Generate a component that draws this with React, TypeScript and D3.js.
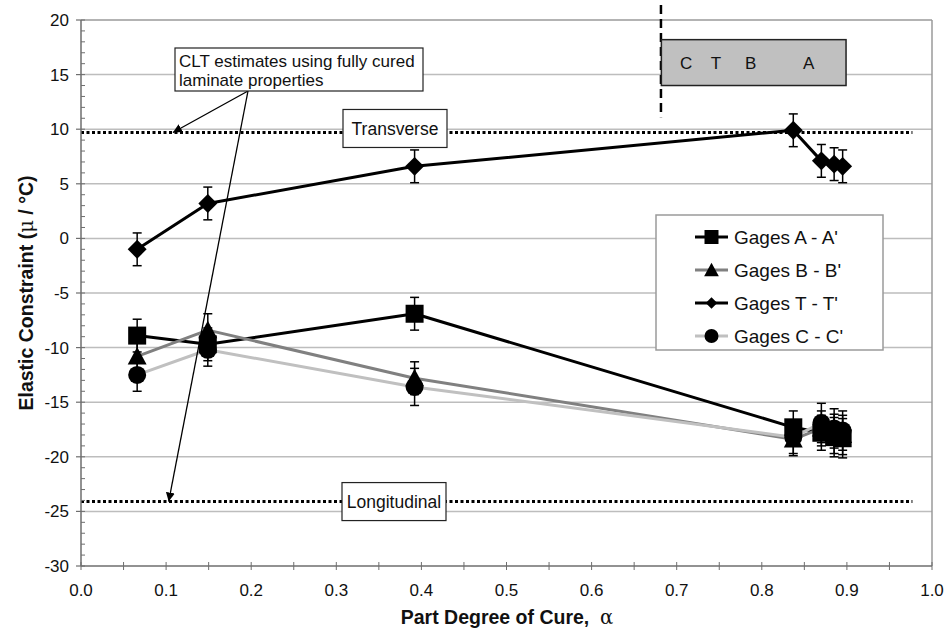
import React from 'react';
import * as d3 from 'd3';

// ---------- data ----------
const alpha = [0.066, 0.149, 0.392, 0.837, 0.87, 0.885, 0.895];
const gagesA = [-8.9, -9.7, -6.9, -17.3, -17.8, -18.2, -18.3];
const gagesB = [-10.8, -8.4, -12.8, -18.4, -17.4, -17.9, -18.0];
const gagesT = [-1.0, 3.2, 6.6, 9.9, 7.1, 6.8, 6.6];
const gagesC = [-12.5, -10.2, -13.6, -18.2, -16.9, -17.4, -17.6];
const errA = [1.5, 1.5, 1.5, 1.5, 1.6, 1.8, 1.8];
const errB = [1.5, 1.5, 1.5, 1.5, 1.6, 1.8, 1.8];
const errT = [1.5, 1.5, 1.5, 1.5, 1.5, 1.5, 1.5];
const errC = [1.5, 1.5, 1.7, 1.5, 1.8, 1.8, 1.8];
const seriesNames = ["Gages A - A'", "Gages B - B'", "Gages T - T'", "Gages C - C'"];
const transverse = 9.7;
const longitudinal = -24.1;
const yTicks = [-30, -25, -20, -15, -10, -5, 0, 5, 10, 15, 20];
const xTicks = [0, 0.1, 0.2, 0.3, 0.4, 0.5, 0.6, 0.7, 0.8, 0.9, 1.0];
const cureLetters = ['C', 'T', 'B', 'A'];

const FONT = 'Liberation Sans, Arial, sans-serif';

function markerPath(shape: string, s: number) {
  const h = s / 2;
  if (shape === 'square') return `M${-h},${-h}H${h}V${h}H${-h}Z`;
  if (shape === 'triangle') return `M0,${-h * 1.05}L${h * 1.05},${h * 0.9}L${-h * 1.05},${h * 0.9}Z`;
  if (shape === 'diamond') return `M0,${-h * 1.05}L${h * 1.05},0L0,${h * 1.05}L${-h * 1.05},0Z`;
  return d3.arc()({ innerRadius: 0, outerRadius: h, startAngle: 0, endAngle: 2 * Math.PI }) as string;
}

export default function App() {
  const W = 946, H = 639;
  const x = d3.scaleLinear().domain([0, 1]).range([81, 932]);
  const y = d3.scaleLinear().domain([-30, 20]).range([566, 20]);

  const series = [
    { name: seriesNames[0], values: gagesA, err: errA, color: '#000000', shape: 'square' },
    { name: seriesNames[1], values: gagesB, err: errB, color: '#808080', shape: 'triangle' },
    { name: seriesNames[2], values: gagesT, err: errT, color: '#000000', shape: 'diamond' },
    { name: seriesNames[3], values: gagesC, err: errC, color: '#c0c0c0', shape: 'circle' },
  ];

  const line = d3.line<number>().x((_, i) => x(alpha[i])).y((d) => y(d));
  const minorY = d3.range(-30, 20.001, 1);
  const minorX = d3.range(0, 1.0001, 0.05);

  const x0 = x(0), x1 = x(1), yb = y(-30), yt = y(20);

  return (
    <svg width={W} height={H} style={{ position: 'absolute', left: 0, top: 0, background: '#fff' }}
      fontFamily={FONT}>
      <rect x={0} y={0} width={W} height={H} fill="#fff" />
      {/* gridlines */}
      {yTicks.filter((t) => t > -30 && t < 20).map((t) => (
        <line key={'g' + t} x1={x0} x2={x1} y1={y(t)} y2={y(t)} stroke="#bdbdbd" strokeWidth={1.5} />
      ))}
      {/* plot border top/right */}
      <line x1={x0} x2={x1} y1={yt} y2={yt} stroke="#9a9a9a" strokeWidth={1.5} />
      <line x1={x1} x2={x1} y1={yt} y2={yb} stroke="#9a9a9a" strokeWidth={1.5} />

      {/* reference dotted lines */}
      <line x1={x0} x2={x(0.977)} y1={y(transverse)} y2={y(transverse)} stroke="#000" strokeWidth={3} strokeDasharray="3,2.5" />
      <line x1={x0} x2={x(0.977)} y1={y(longitudinal)} y2={y(longitudinal)} stroke="#000" strokeWidth={3} strokeDasharray="3,2.5" />

      {/* axes */}
      <line x1={x0} x2={x0} y1={yt} y2={yb} stroke="#6e6e6e" strokeWidth={1.5} />
      <line x1={x0} x2={x1} y1={yb} y2={yb} stroke="#6e6e6e" strokeWidth={1.5} />
      {minorY.map((t) => (
        <line key={'my' + t} x1={x0} x2={x0 + 4} y1={y(t)} y2={y(t)} stroke="#6e6e6e" strokeWidth={1} />
      ))}
      {yTicks.map((t) => (
        <g key={'yt' + t}>
          <line x1={x0 - 5} x2={x0} y1={y(t)} y2={y(t)} stroke="#6e6e6e" strokeWidth={1.2} />
          <text x={69} y={y(t)} dy="0.35em" textAnchor="end" fontSize={17} fill="#111">{t}</text>
        </g>
      ))}
      {minorX.map((t, i) => (
        <line key={'mx' + i} x1={x(t)} x2={x(t)} y1={yb - 4} y2={yb + 4} stroke="#6e6e6e" strokeWidth={1} />
      ))}
      {xTicks.map((t) => (
        <text key={'xt' + t} x={x(t)} y={596} textAnchor="middle" fontSize={17} fill="#111">{t.toFixed(1)}</text>
      ))}

      {/* axis titles */}
      <text x={507} y={624} textAnchor="middle" fontSize={19.5} fontWeight="bold" fill="#111">
        Part Degree of Cure,{'\u00a0\u00a0'}<tspan fontWeight="normal" fontFamily="DejaVu Serif, serif">α</tspan>
      </text>
      <text transform={`translate(33,${(yt + yb) / 2}) rotate(-90)`} textAnchor="middle" fontSize={19.5} fontWeight="bold" fill="#111">
        Elastic Constraint (<tspan fontWeight="normal" fontFamily="DejaVu Serif, serif">μ</tspan> / °C)
      </text>

      {/* series lines */}
      {series.map((s) => (
        <path key={'l' + s.name} d={line(s.values) as string} fill="none" stroke={s.color} strokeWidth={3} strokeLinejoin="round" />
      ))}
      {/* error bars */}
      {series.map((s) => s.values.map((v, i) => {
        const cx = x(alpha[i]);
        const ytop = y(v + s.err[i]), ybot = y(v - s.err[i]);
        return (
          <g key={'e' + s.name + i} stroke="#000" strokeWidth={1.5}>
            <line x1={cx} x2={cx} y1={ytop} y2={ybot} />
            <line x1={cx - 4.5} x2={cx + 4.5} y1={ytop} y2={ytop} />
            <line x1={cx - 4.5} x2={cx + 4.5} y1={ybot} y2={ybot} />
          </g>
        );
      }))}
      {/* markers */}
      {series.map((s) => s.values.map((v, i) => (
        <path key={'m' + s.name + i} d={markerPath(s.shape, 18)} transform={`translate(${x(alpha[i])},${y(v)})`} fill="#000" />
      )))}

      {/* cure-stage box */}
      <line x1={x(0.6815)} x2={x(0.6815)} y1={5} y2={y(11.1)} stroke="#000" strokeWidth={2.5} strokeDasharray="9,5" />
      <rect x={x(0.682)} y={y(18.2)} width={x(0.899) - x(0.682)} height={y(14.0) - y(18.2)} fill="#c0c0c0" stroke="#222" strokeWidth={1.5} />
      {cureLetters.map((c, i) => (
        <text key={'c' + c} x={x([0.711, 0.746, 0.787, 0.855][i])} y={y(16.1)} dy="0.35em" textAnchor="middle" fontSize={17} fill="#111">{c}</text>
      ))}

      {/* labelled boxes on reference lines */}
      <rect x={343} y={y(transverse) - 23} width={104} height={38} fill="#fff" stroke="#222" strokeWidth={1.2} />
      <text x={395} y={y(transverse) - 4} dy="0.35em" textAnchor="middle" fontSize={17.5} fill="#111">Transverse</text>
      <rect x={342} y={y(longitudinal) - 19} width={104} height={38} fill="#fff" stroke="#222" strokeWidth={1.2} />
      <text x={394} y={y(longitudinal)} dy="0.35em" textAnchor="middle" fontSize={17.5} fill="#111">Longitudinal</text>

      {/* CLT annotation */}
      <defs>
        <marker id="ah" viewBox="0 0 10 10" refX={10} refY={5} markerWidth={9} markerHeight={9} orient="auto-start-reverse" markerUnits="userSpaceOnUse">
          <path d="M0,0L10,5L0,10Z" fill="#000" />
        </marker>
      </defs>
      <line x1={248} y1={91} x2={x(0.108)} y2={y(transverse)} stroke="#000" strokeWidth={1.3} markerEnd="url(#ah)" />
      <line x1={248} y1={91} x2={x(0.103)} y2={y(longitudinal)} stroke="#000" strokeWidth={1.3} markerEnd="url(#ah)" />
      <rect x={175} y={48} width={248} height={43} fill="#fff" stroke="#222" strokeWidth={1.2} />
      <text x={179} y={61} dy="0.35em" fontSize={17} fill="#111">CLT estimates using fully cured</text>
      <text x={179} y={80} dy="0.35em" fontSize={17} fill="#111">laminate properties</text>

      {/* legend */}
      <rect x={656} y={215} width={227} height={135} fill="#fff" stroke="#9a9a9a" strokeWidth={1.5} />
      {series.map((s, i) => {
        const ly = 237 + i * 33;
        return (
          <g key={'lg' + s.name}>
            <line x1={695} x2={728} y1={ly} y2={ly} stroke={s.color} strokeWidth={3} />
            <path d={markerPath(s.shape, s.shape === 'diamond' ? 11 : 14)} transform={`translate(711.5,${ly})`} fill="#000" />
            <text x={734} y={ly} dy="0.35em" fontSize={19} fill="#111">{s.name}</text>
          </g>
        );
      })}
    </svg>
  );
}
